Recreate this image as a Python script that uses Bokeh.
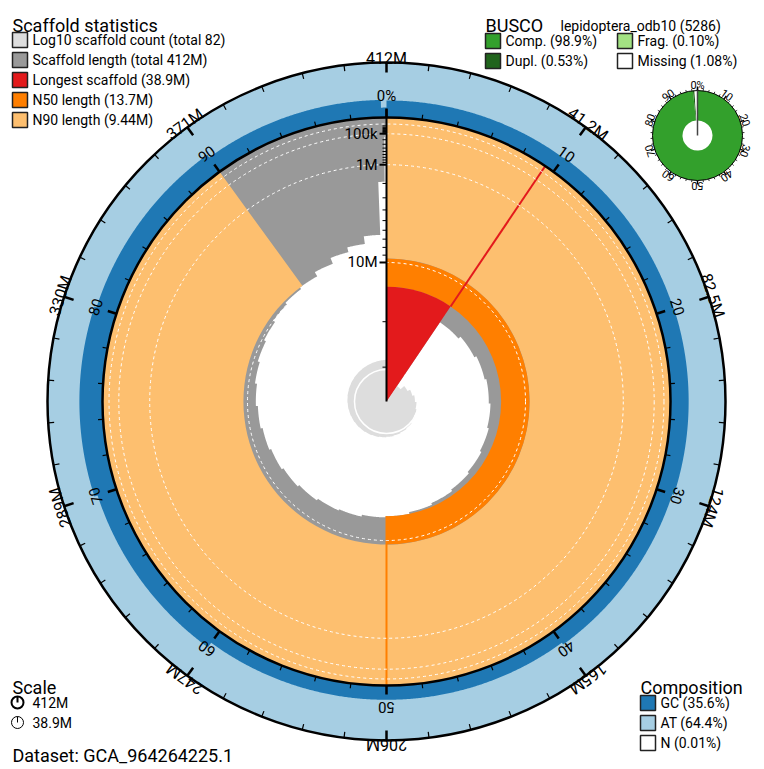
import numpy as np
from bokeh.plotting import figure
from bokeh.models import Range1d
from bokeh.embed import file_html
from bokeh.resources import INLINE
from bokeh.core.properties import value

W, H = 764, 769
FONT = value("Roboto")

# ---------------- data ----------------
scaffold_lengths_mb = [
    38.9,
    17.0, 16.5, 16.1, 15.8, 15.5, 15.2, 14.9, 14.6, 14.3, 14.0, 13.7,
    13.5, 13.2, 13.0, 12.7, 12.4, 12.1, 11.8, 11.5, 11.2, 10.9, 10.6, 10.3, 10.0, 9.7, 9.44,
    8.8, 8.0, 7.4, 6.5, 1.9,
    0.15, 0.07, 0.04, 0.03, 0.025, 0.02, 0.018, 0.016, 0.014, 0.012,
    0.006, 0.006, 0.006, 0.006, 0.006, 0.006, 0.006, 0.006, 0.006, 0.006,
    0.004, 0.004, 0.004, 0.004, 0.004, 0.004, 0.004, 0.004, 0.004, 0.004,
    0.0035, 0.0035, 0.0035, 0.0035, 0.0035, 0.0035, 0.0035, 0.0035, 0.0035, 0.0035,
    0.003, 0.003, 0.003, 0.003, 0.003, 0.003, 0.003, 0.003, 0.003, 0.003,
]
longest_mb = 38.9
n50_mb = 13.7
n90_mb = 9.44

radial_major_ticks = [1e5, 1e6, 1e7]
radial_major_labels = ["100k", "1M", "10M"]
radial_minor_ticks = [2e4, 3e4, 4e4, 5e4, 6e4, 7e4, 8e4, 9e4,
                      2e5, 3e5, 4e5, 5e5, 6e5, 7e5, 8e5, 9e5,
                      2e6, 3e6, 4e6, 5e6, 6e6, 7e6, 8e6, 9e6,
                      2e7, 3e7]
dashed_circle_values = [1e4, 1e5, 1e6, 1e7]

outer_tick_labels = ["412M", "41.2M", "82.5M", "124M", "165M", "206M", "247M", "289M", "330M", "371M"]
pct_tick_labels = ["0%", "10", "20", "30", "40", "50", "60", "70", "80", "90"]

gc_bin_edges_pct = [0, 10, 20, 30, 40, 50, 60, 70, 80, 90, 99.7, 100]
gc_fraction = [0.31, 0.32, 0.33, 0.30, 0.26, 0.26, 0.36, 0.42, 0.38, 0.32, 0.18]

busco_complete = 98.9
busco_duplicated = 0.53
busco_fragmented = 0.10
busco_missing = 1.08
busco_tick_labels = ["0%", "10", "20", "30", "40", "50", "60", "70", "80", "90"]

scaffold_legend = ["Log10 scaffold count (total 82)", "Scaffold length (total 412M)",
                   "Longest scaffold (38.9M)", "N50 length (13.7M)", "N90 length (9.44M)"]
busco_legend = ["Comp. (98.9%)", "Frag. (0.10%)", "Dupl. (0.53%)", "Missing (1.08%)"]
comp_legend = ["GC (35.6%)", "AT (64.4%)", "N (0.01%)"]
scale_legend = ["412M", "38.9M"]

# ---------------- colours ----------------
C_COUNT = "#dddddd"
C_LEN = "#999999"
C_LONG = "#e31a1c"
C_N50 = "#ff7f00"
C_N90 = "#fdbf6f"
C_GC = "#1f78b4"
C_AT = "#a6cee3"
C_COMP = "#33a02c"
C_DUPL = "#20641c"
C_FRAG = "#a3e283"

# ---------------- geometry ----------------
cx, cy = 386.0, H - 401.0
R_IN, R_OUT, R_S = 284.0, 339.0, 282.0
COUNT_R = 34.0

lengths = np.array(scaffold_lengths_mb)
total = lengths.sum()
cum = np.concatenate([[0], np.cumsum(lengths)]) / total


def rad(L_mb):
    return R_S * (1 - np.sqrt(np.asarray(L_mb, float) / longest_mb))


def ang(f):
    return np.pi / 2 - 2 * np.pi * np.asarray(f, float)


def pol(f, r, x0=cx, y0=cy):
    f = np.asarray(f, float)
    r = np.asarray(r, float)
    return x0 + r * np.sin(2 * np.pi * f), y0 + r * np.cos(2 * np.pi * f)


def star(edges, radii, per_turn=1440):
    xs, ys = [], []
    for f0, f1, r in zip(edges[:-1], edges[1:], radii):
        n = max(2, int(np.ceil((f1 - f0) * per_turn)) + 1)
        fs = np.linspace(f0, f1, n)
        x, y = pol(fs, np.full(n, r))
        xs.extend(x.tolist())
        ys.extend(y.tolist())
    return xs, ys


p = figure(width=W, height=H, x_range=Range1d(0, W), y_range=Range1d(0, H),
           output_backend="svg", toolbar_location=None, x_axis_type=None, y_axis_type=None,
           min_border=0)
p.outline_line_color = None
p.background_fill_color = "white"
p.border_fill_color = "white"

# composition ring
p.circle(x=[cx], y=[cy], radius=R_OUT, fill_color=C_AT, line_color=None)
gc_edges = np.array(gc_bin_edges_pct) / 100.0
gx, gy = star(gc_edges, R_IN + np.array(gc_fraction) * (R_OUT - R_IN))
p.patch(gx, gy, fill_color=C_GC, line_color=None)

# scaffold length (grey) with white interior
p.circle(x=[cx], y=[cy], radius=R_IN, fill_color=C_LEN, line_color=None)
wx, wy = star(cum, rad(lengths))
p.patch(wx, wy, fill_color="white", line_color=None)

# log10 count
counts = np.arange(1, len(lengths) + 1)
lx, ly = star(cum, COUNT_R * np.sqrt(np.log10(counts)))
p.patch(lx, ly, fill_color=C_COUNT, line_color=None)
p.circle(x=[cx], y=[cy], radius=COUNT_R * np.sqrt(np.log10(10)) - 2, fill_color=None,
         line_color="white", line_width=1.5)

# N90, N50, longest
f_long = longest_mb / total
p.annular_wedge(x=[cx], y=[cy], inner_radius=float(rad(n90_mb)), outer_radius=R_IN,
                start_angle=float(ang(0)), end_angle=float(ang(0.9)), direction="clock",
                fill_color=C_N90, line_color=None)
p.annular_wedge(x=[cx], y=[cy], inner_radius=float(rad(n50_mb)), outer_radius=float(rad(n90_mb)),
                start_angle=float(ang(0)), end_angle=float(ang(0.5)), direction="clock",
                fill_color=C_N50, line_color=None)
p.wedge(x=[cx], y=[cy], radius=float(rad(n50_mb)),
        start_angle=float(ang(0)), end_angle=float(ang(f_long)), direction="clock",
        fill_color=C_LONG, line_color=None)

# marker lines
x0, y0 = pol(f_long, rad(n50_mb))
x1, y1 = pol(f_long, R_IN)
p.segment(x0=[x0], y0=[y0], x1=[x1], y1=[y1], line_color=C_LONG, line_width=2)
x0, y0 = pol(0.5, rad(n50_mb))
x1, y1 = pol(0.5, R_IN)
p.segment(x0=[x0], y0=[y0], x1=[x1], y1=[y1], line_color=C_N50, line_width=2)

# dashed circles
for v in dashed_circle_values:
    p.circle(x=[cx], y=[cy], radius=float(rad(v / 1e6)), fill_color=None,
             line_color="white", line_width=1, line_dash="3 3")

# rings outlines
p.circle(x=[cx], y=[cy], radius=R_IN, fill_color=None, line_color="black", line_width=2.5)
p.circle(x=[cx], y=[cy], radius=R_OUT, fill_color=None, line_color="black", line_width=2.5)

# ring ticks
tf = np.arange(50) / 50.0
major = (np.arange(50) % 5) == 0
ox0, oy0 = pol(tf, np.full(50, R_OUT))
ox1, oy1 = pol(tf, np.where(major, R_OUT - 10, R_OUT - 6))
p.segment(x0=ox0, y0=oy0, x1=ox1, y1=oy1, line_color="black", line_width=np.where(major, 2.5, 1.2))
ix0, iy0 = pol(tf, np.full(50, R_IN))
ix1, iy1 = pol(tf, np.where(major, R_IN + 9, R_IN + 5))
p.segment(x0=ix0, y0=iy0, x1=ix1, y1=iy1, line_color="black", line_width=np.where(major, 2.5, 1.2))

lf = np.arange(10) / 10.0
tx, ty = pol(lf, np.full(10, R_OUT + 4))
p.text(x=tx, y=ty, text=outer_tick_labels, angle=-2 * np.pi * lf, text_align="center",
       text_baseline="alphabetic", text_font=FONT, text_font_size="16px", text_color="black")
tx, ty = pol(lf, np.full(10, R_IN + 22))
p.text(x=tx, y=ty, text=pct_tick_labels, angle=-2 * np.pi * lf, text_align="center",
       text_baseline="alphabetic", text_font=FONT, text_font_size="15px", text_color="black")

# radial axis
p.segment(x0=[cx], y0=[cy], x1=[cx], y1=[cy + R_IN + 8], line_color="black", line_width=2)
rmaj = rad(np.array(radial_major_ticks) / 1e6)
rmin = rad(np.array(radial_minor_ticks) / 1e6)
p.segment(x0=np.full(len(rmaj), cx), y0=cy + rmaj, x1=np.full(len(rmaj), cx - 7), y1=cy + rmaj,
          line_color="black", line_width=2)
p.segment(x0=np.full(len(rmin), cx), y0=cy + rmin, x1=np.full(len(rmin), cx - 4), y1=cy + rmin,
          line_color="black", line_width=1)
p.text(x=np.full(len(rmaj), cx - 9), y=cy + rmaj, text=radial_major_labels, text_align="right",
       text_baseline="middle", text_font=FONT, text_font_size="15px", text_color="black")

# ---------------- BUSCO donut ----------------
bx, by = 697.0, H - 135.0
BR_IN, BR_OUT = 15.0, 45.0
single = busco_complete - busco_duplicated
b_edges = np.array([0, single, busco_complete, busco_complete + busco_fragmented, 100.0]) / 100.0
b_cols = [C_COMP, C_DUPL, C_FRAG, "white"]
p.annular_wedge(x=np.full(4, bx), y=np.full(4, by), inner_radius=BR_IN, outer_radius=BR_OUT,
                start_angle=ang(b_edges[:-1]), end_angle=ang(b_edges[1:]), direction="clock",
                fill_color=b_cols, line_color=None)
p.circle(x=[bx], y=[by], radius=BR_OUT, fill_color=None, line_color="black", line_width=1)
p.segment(x0=[bx], y0=[by], x1=[bx], y1=[by + BR_OUT + 2], line_color="#444444", line_width=1.5)
bt = np.arange(50) / 50.0
bmaj = (np.arange(50) % 5) == 0
sx0, sy0 = pol(bt, np.full(50, BR_OUT), bx, by)
sx1, sy1 = pol(bt, np.where(bmaj, BR_OUT + 4, BR_OUT + 2), bx, by)
p.segment(x0=sx0, y0=sy0, x1=sx1, y1=sy1, line_color="black", line_width=np.where(bmaj, 1.5, 0.8))
tx, ty = pol(lf, np.full(10, BR_OUT + 5), bx, by)
p.text(x=tx, y=ty, text=busco_tick_labels, angle=-2 * np.pi * lf, text_align="center",
       text_baseline="alphabetic", text_font=FONT, text_font_size="11px", text_color="black")

# ---------------- legends ----------------
def title(x, y, t):
    p.text(x=[x], y=[H - y], text=[t], text_align="left", text_baseline="alphabetic",
           text_font=FONT, text_font_size="18px", text_color="black")


def items(xs, ys, labels, colors, size="14px"):
    xs = np.array(xs, float)
    ys = np.array(ys, float)
    p.quad(left=xs, right=xs + 15, top=H - ys, bottom=H - ys - 15, fill_color=colors,
           line_color="#222222", line_width=1.5)
    p.text(x=xs + 20, y=H - ys - 7.5, text=labels, text_align="left", text_baseline="middle",
           text_font=FONT, text_font_size=size, text_color="black")


title(12, 25, "Scaffold statistics")
items([12] * 5, [32, 52, 72, 92, 112], scaffold_legend, [C_COUNT, C_LEN, C_LONG, C_N50, C_N90])

title(485, 25, "BUSCO")
p.text(x=[560], y=[H - 25], text=["lepidoptera_odb10 (5286)"], text_align="left",
       text_baseline="alphabetic", text_font=FONT, text_font_size="14px", text_color="black")
items([485, 617, 485, 617], [33, 33, 53, 53], busco_legend, [C_COMP, C_FRAG, C_DUPL, "white"])

title(640, 687, "Composition")
items([640] * 3, [695, 715, 735], comp_legend, [C_GC, C_AT, "white"])

title(12, 687, "Scale")
p.circle(x=[17], y=[H - 702], radius=6, fill_color=None, line_color="black", line_width=2)
p.segment(x0=[17], y0=[H - 702], x1=[17], y1=[H - 696], line_color="black", line_width=2)
p.circle(x=[17], y=[H - 722], radius=6, fill_color=None, line_color="black", line_width=1)
p.segment(x0=[17], y0=[H - 722], x1=[17], y1=[H - 716], line_color="black", line_width=1)
p.text(x=[32, 32], y=[H - 702, H - 722], text=scale_legend, text_align="left",
       text_baseline="middle", text_font=FONT, text_font_size="14px", text_color="black")

p.text(x=[12], y=[H - 755], text=["Dataset: GCA_964264225.1"], text_align="left",
       text_baseline="alphabetic", text_font=FONT, text_font_size="18px", text_color="black")

open("out.html", "w").write(file_html(p, INLINE))
